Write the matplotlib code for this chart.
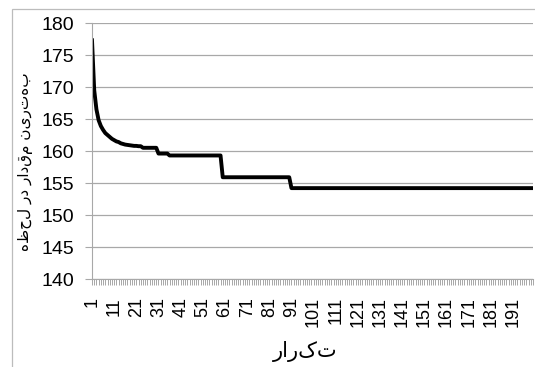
import matplotlib
matplotlib.use("Agg")
import matplotlib.pyplot as plt
from matplotlib.patches import Rectangle
import numpy as np

# values
start_values = [177.3, 169.5, 166.5, 164.8, 163.9, 163.3, 162.8, 162.5, 162.2, 161.9,
                161.7, 161.5, 161.4, 161.2, 161.1, 161.0, 160.95, 160.9, 160.85, 160.8,
                160.8, 160.75, 160.75]
plateau_values = [160.5, 159.6, 159.3, 155.9, 154.2]
plateau_lengths = [7, 5, 24, 31, 110]
y_label = "بهترین مقدار در لحظه"
x_label = "تکرار"

best = list(start_values)
for v, n in zip(plateau_values, plateau_lengths):
    best += [v] * n
iters = np.arange(1, len(best) + 1)

plt.rcParams['font.family'] = ['Liberation Sans', 'DejaVu Sans']

fig = plt.figure(figsize=(5.35, 3.67), dpi=100)
fig.patches.append(Rectangle((12 / 535, -0.05), 1.2, 1 - 9 / 367 + 0.05,
                             transform=fig.transFigure, fill=False,
                             edgecolor="#bcbcbc", lw=0.9))
ax = fig.add_axes([92 / 535, 1 - 279 / 367, 441 / 535, 256 / 367])

ax.plot(iters, best, color="black", lw=2.8, solid_joinstyle="round")
ax.set_xlim(1, len(best))
ax.set_ylim(140, 180)
ax.set_yticks(np.arange(140, 181, 5))
ax.grid(axis="y", color="#a8a8a8", lw=0.9)
ax.set_axisbelow(True)

ax.set_xticks(np.arange(1, len(best) + 1, 10))
ax.set_xticks(iters, minor=True)
ax.tick_params(axis="x", which="both", length=4, color="#999999", width=0.6,
               labelsize=13, pad=9, labelrotation=90)
ax.tick_params(axis="y", length=5, color="#a8a8a8", labelsize=14, pad=8)
plt.setp(ax.get_xticklabels(), rotation=90, va="top", ha="center")

for s in ["top", "right"]:
    ax.spines[s].set_visible(False)
for s in ["left", "bottom"]:
    ax.spines[s].set_color("#a8a8a8")

ax.set_xlabel(x_label[::-1], fontsize=15, family="DejaVu Sans", va="center")
ax.xaxis.set_label_coords(0.483, -0.285)
ax.set_ylabel(y_label[::-1], fontsize=11, family="DejaVu Sans", rotation=90)
ax.yaxis.set_label_coords(-0.134, 0.457)

fig.savefig("out.png", dpi=100)
